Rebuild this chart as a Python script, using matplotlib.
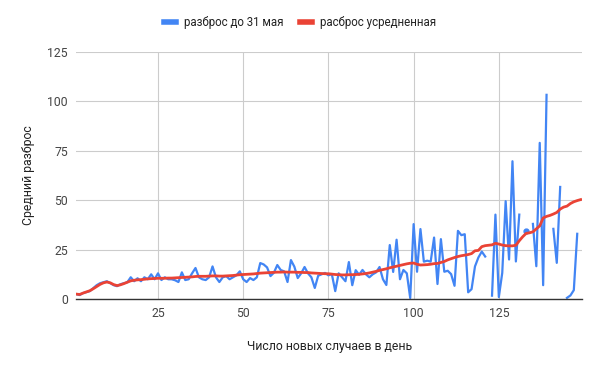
import numpy as np
import matplotlib
matplotlib.use('Agg')
from matplotlib import pyplot as plt

plt.rcParams['font.family'] = ['Roboto', 'DejaVu Sans']

nan = np.nan

# день (ось X)
days = list(range(1, 150))

# разброс до 31 мая (синяя линия, NaN = пропуск)
razbros = [
    2.5, 2, 3, 3.5, 4, 5.5, 7, 8, 8.5, 9,
    8, 7, 6.5, 7.5, 8, 8.5, 11, 9, 10.5, 9,
    11, 10, 12.5, 10, 13, 9.6, 11, 10, 10, 9.5,
    8.6, 13.5, 9.6, 10, 13, 15.7, 11, 10, 9.6, 11,
    16.5, 11, 8.6, 11, 11.6, 10, 11, 12, 14, 10,
    8.6, 10.6, 9.6, 11, 18.2, 17.5, 16, 11.6, 13.3, 17.2,
    14.7, 14, 8.6, 19.7, 16.4, 10.6, 13, 16.2, 13, 11,
    5.6, 11.8, 12.5, 13.2, 12, 12.6, 4, 13, 11, 9,
    18.7, 7, 14.6, 12.3, 14.7, 12.5, 11, 12.5, 13.5, 16.2,
    10, 7.1, 27.3, 13.7, 30, 10, 14.7, 13, 0.5, 37.9,
    13.8, 35.4, 18.9, 19.4, 18.9, 31.1, 7.6, 30.3, 13.8, 14.3,
    12.6, 6.7, 34.5, 32.3, 32.8, 3.4, 5, 16.5, 21, 24,
    21.5, nan, 1.7, 42.7, 1, 13.2, 49.5, 20, 69.7, 19,
    42.7, nan, 34.5, nan, 38, 16.6, 79, 7, 103.3, nan,
    35.5, 18.3, 56.7, nan, 0.6, 1.8, 4.5, 33, nan,
]

# разброс усредненный (красная линия)
usrednen = [
    2.5, 2.3, 3, 3.6, 4.2, 5.2, 6.3, 7.4, 8.2, 8.6,
    8.2, 7.3, 6.8, 7.2, 7.8, 8.5, 9.2, 9.5, 9.7, 9.8,
    10, 10.2, 10.3, 10.4, 10.5, 10.5, 10.5, 10.6, 10.6, 10.7,
    10.8, 10.9, 11, 11.1, 11.2, 11.4, 11.5, 11.5, 11.5, 11.6,
    11.7, 11.7, 11.6, 11.6, 11.7, 11.8, 11.9, 12.1, 12.3, 12.4,
    12.5, 12.6, 12.7, 12.9, 13.1, 13.2, 13.3, 13.4, 13.5, 13.6,
    13.6, 13.7, 13.6, 13.6, 13.6, 13.5, 13.5, 13.4, 13.4, 13.2,
    13.1, 13, 12.9, 12.8, 12.8, 12.6, 12.4, 12.3, 12.2, 12.2,
    12.3, 12.3, 12.4, 12.5, 12.7, 12.9, 13.2, 13.6, 14, 14.5,
    14.9, 15.3, 15.8, 16.2, 16.6, 17, 17.4, 17.8, 18.1, 18.2,
    17.6, 17.2, 17.3, 17.4, 17.6, 17.9, 18, 18.5, 19, 19.8,
    20.4, 21, 21.5, 21.9, 22.2, 22.5, 23, 24.4, 24.6, 26.5,
    27, 27.2, 27.4, 28.2, 27.8, 27.3, 27, 26.9, 26.9, 27.2,
    29.5, 31.5, 33.2, 33.5, 34, 35.5, 37, 41, 41.8, 42.3,
    43, 43.8, 45.5, 46.5, 47, 48.3, 49.2, 49.8, 50.3,
]

x_ticks = [25, 50, 75, 100, 125]
y_ticks = [0, 25, 50, 75, 100, 125]

fig = plt.figure(figsize=(6, 3.71), dpi=100)
ax = fig.add_axes([0.127, 0.194, 0.843, 0.666])

ax.plot(days, razbros, color='#4285F4', linewidth=1.6, label='разброс до 31 мая')

# одиночные точки между пропусками рисуем кружком, как в Sheets
r = np.array(razbros, dtype=float)
prev_nan = np.isnan(np.r_[nan, r[:-1]])
next_nan = np.isnan(np.r_[r[1:], nan])
alone = ~np.isnan(r) & prev_nan & next_nan
ax.plot(np.array(days)[alone], r[alone], 'o', color='#4285F4', markersize=3.5)

ax.plot(days, usrednen, color='#EA4335', linewidth=2.0, label='расброс усредненная')

ax.set_xlim(1, 149.4)
ax.set_ylim(0, 125)
ax.set_xticks(x_ticks)
ax.set_yticks(y_ticks)
ax.grid(True, color='#cccccc', linewidth=0.8)
ax.set_axisbelow(True)
for s in ['top', 'right', 'left']:
    ax.spines[s].set_visible(False)
ax.spines['bottom'].set_color('#333333')
ax.spines['bottom'].set_linewidth(1.0)
ax.tick_params(length=0, labelsize=8.8, colors='#444444', pad=6)

ax.set_xlabel('Число новых случаев в день', fontsize=8.8, color='#222222', labelpad=14)
ax.set_ylabel('Средний разброс', fontsize=8.8, color='#222222', labelpad=9)

leg = fig.legend(loc='upper center', bbox_to_anchor=(0.5, 0.985), ncol=2, frameon=False,
                 fontsize=8.3, handlelength=1.05, handletextpad=0.7, columnspacing=1.4)
for line in leg.get_lines():
    line.set_linewidth(4)
for t in leg.get_texts():
    t.set_color('#222222')

fig.savefig('out.png', dpi=100)
